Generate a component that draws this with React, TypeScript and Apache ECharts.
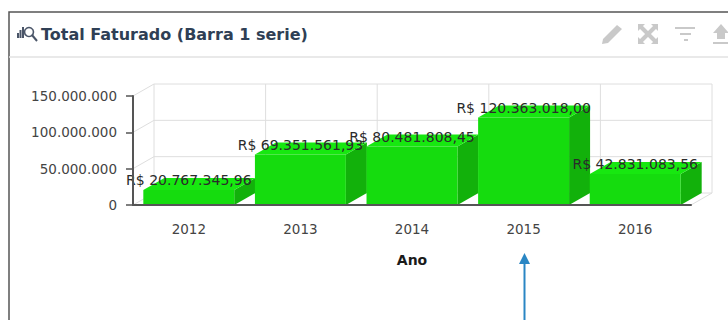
import React, { useEffect, useRef } from "react";
import * as echarts from "echarts";

const anos = ["2012", "2013", "2014", "2015", "2016"];
const faturado = [20767345.96, 69351561.93, 80481808.45, 120363018.0, 42831083.56];
const rotulos = ["R$ 20.767.345,96", "R$ 69.351.561,93", "R$ 80.481.808,45", "R$ 120.363.018,00", "R$ 42.831.083,56"];
const yTicks = [0, 50000000, 100000000, 150000000];
const titulo = "Total Faturado (Barra 1 serie)";

const DX = 21;
const DY = -12;
const FONT = "'DejaVu Sans', sans-serif";
const GRID = "#dedede";
const ICON = "#c9c9c9";
const ICON_DARK = "#4a5568";

const fmt = (v: number) => String(v).replace(/\B(?=(\d{3})+(?!\d))/g, ".");

function poly(points: number[][], fill: string) {
  return { type: "polygon", shape: { points }, style: { fill } };
}
function seg(x1: number, y1: number, x2: number, y2: number, stroke: string, lineWidth: number) {
  return { type: "line", shape: { x1, y1, x2, y2 }, style: { stroke, lineWidth } };
}

export default function App() {
  const ref = useRef<HTMLDivElement>(null);
  useEffect(() => {
    const chart = echarts.init(ref.current!, null, { renderer: "svg" });
    chart.setOption({
      animation: false,
      backgroundColor: "#ffffff",
      tooltip: { show: false },
      grid: { left: 133, right: 37, top: 96, bottom: 115 },
      xAxis: {
        type: "category",
        data: anos,
        name: "Ano",
        nameLocation: "middle",
        nameGap: 48,
        nameTextStyle: { fontFamily: FONT, fontSize: 14, fontWeight: "bold", color: "#1a1a1a" },
        axisLine: { lineStyle: { color: "#555555", width: 2 } },
        axisTick: { alignWithLabel: true, length: 6, lineStyle: { color: "#555555", width: 1.5 } },
        axisLabel: { fontFamily: FONT, fontSize: 13.5, color: "#444444", margin: 17 },
        splitLine: { show: false },
        z: 5,
      },
      yAxis: {
        type: "value",
        min: 0,
        max: 150000000,
        interval: 50000000,
        axisLine: { show: true, lineStyle: { color: "#555555", width: 2 } },
        axisTick: { show: true, length: 7, lineStyle: { color: "#555555", width: 1.5 } },
        axisLabel: { fontFamily: FONT, fontSize: 13.5, color: "#444444", margin: 16, formatter: (v: number) => fmt(v) },
        splitLine: { show: false },
        z: 5,
      },
      graphic: [
        { type: "polyline", shape: { points: [[9, 320], [9, 12], [728, 12]] }, style: { stroke: "#555555", lineWidth: 1.5, fill: "none" } },
        seg(9, 57, 728, 57, "#e2e2e2", 1.5),
        { type: "text", x: 41, y: 34, style: { text: titulo, font: `bold 16px ${FONT}`, fill: "#2f3f55", textVerticalAlign: "middle" } },
        // chart-search icon
        { type: "rect", shape: { x: 17, y: 33, width: 2, height: 5 }, style: { fill: ICON_DARK } },
        { type: "rect", shape: { x: 19.5, y: 30, width: 2, height: 8 }, style: { fill: ICON_DARK } },
        { type: "rect", shape: { x: 22, y: 27, width: 2, height: 11 }, style: { fill: ICON_DARK } },
        { type: "circle", shape: { cx: 29, cy: 32, r: 4.5 }, style: { fill: "#ffffff", stroke: ICON_DARK, lineWidth: 1.6 } },
        seg(32, 35, 37, 41, ICON_DARK, 2),
        // pencil
        poly([[617, 25], [622, 29], [608, 43], [602, 44], [603, 39]], ICON),
        // expand
        seg(641, 27, 655, 41, ICON, 4),
        seg(655, 27, 641, 41, ICON, 4),
        poly([[638, 24], [645, 24], [638, 31]], ICON),
        poly([[658, 24], [651, 24], [658, 31]], ICON),
        poly([[638, 44], [645, 44], [638, 37]], ICON),
        poly([[658, 44], [651, 44], [658, 37]], ICON),
        // filter
        { type: "rect", shape: { x: 675, y: 27, width: 20, height: 2 }, style: { fill: ICON } },
        { type: "rect", shape: { x: 680, y: 33, width: 11, height: 2 }, style: { fill: ICON } },
        { type: "rect", shape: { x: 684, y: 39, width: 4, height: 2 }, style: { fill: ICON } },
        // upload
        poly([[713, 33], [721, 24], [729, 33], [725, 33], [725, 39], [717, 39], [717, 33]], ICON),
        { type: "rect", shape: { x: 713, y: 42, width: 15, height: 2 }, style: { fill: ICON } },
        // annotation arrow
        seg(524.5, 262, 524.5, 320, "#2a86c4", 2),
        poly([[524.5, 253], [530, 264], [519, 264]], "#2a86c4"),
      ],
      series: [
        {
          type: "custom",
          coordinateSystem: "cartesian2d",
          clip: false,
          silent: true,
          z: 1,
          data: yTicks.map((v) => [0, v]),
          renderItem: (params: any, api: any) => {
            const cs = params.coordSys;
            const y = api.coord([0, api.value(1)])[1];
            return {
              type: "group",
              children: [
                seg(cs.x, y, cs.x + DX, y + DY, GRID, 1),
                seg(cs.x + DX, y + DY, cs.x + cs.width + DX, y + DY, GRID, 1),
              ],
            };
          },
        },
        {
          type: "custom",
          coordinateSystem: "cartesian2d",
          clip: false,
          silent: true,
          z: 1,
          data: anos.map((a, i) => [i, 0]),
          renderItem: (params: any, api: any) => {
            const cs = params.coordSys;
            const band = api.size([1, 0])[0];
            const cx = api.coord([api.value(0), 0])[0];
            const left = cx - band / 2 + DX;
            const top = cs.y + DY;
            const bot = cs.y + cs.height + DY;
            const children: any[] = [seg(left, top, left, bot, GRID, 1)];
            if (params.dataIndex === anos.length - 1) {
              const right = left + band;
              children.push(seg(right, top, right, bot, GRID, 1));
              children.push(seg(right - DX, bot - DY, right, bot, GRID, 1));
            }
            return { type: "group", children };
          },
        },
        {
          type: "custom",
          coordinateSystem: "cartesian2d",
          clip: false,
          silent: true,
          z: 2,
          data: faturado.map((v, i) => [i, v]),
          renderItem: (params: any, api: any) => {
            const [cx, yTop] = api.coord([api.value(0), api.value(1)]);
            const [, y0] = api.coord([api.value(0), 0]);
            const w = api.size([1, 0])[0] * 0.815;
            const l = cx - w / 2;
            const r = cx + w / 2;
            return {
              type: "group",
              children: [
                poly([[r, y0], [r + DX, y0 + DY], [r + DX, yTop + DY], [r, yTop]], "#12b10b"),
                poly([[l, yTop], [l + DX, yTop + DY], [r + DX, yTop + DY], [r, yTop]], "#17e810"),
                poly([[l, y0], [l, yTop], [r, yTop], [r, y0]], "#15dc0e"),
              ],
            };
          },
        },
        {
          type: "custom",
          coordinateSystem: "cartesian2d",
          clip: false,
          silent: true,
          z: 3,
          data: faturado.map((v, i) => [i, v]),
          renderItem: (params: any, api: any) => {
            const [cx, yTop] = api.coord([api.value(0), api.value(1)]);
            return {
              type: "text",
              x: cx,
              y: yTop - 10,
              style: {
                text: rotulos[params.dataIndex],
                font: `14px ${FONT}`,
                fill: "#2b2b2b",
                textAlign: "center",
                textVerticalAlign: "middle",
              },
            };
          },
        },
      ],
    });
    return () => chart.dispose();
  }, []);
  return <div ref={ref} style={{ position: "absolute", left: 0, top: 0, width: 728, height: 320 }} />;
}
